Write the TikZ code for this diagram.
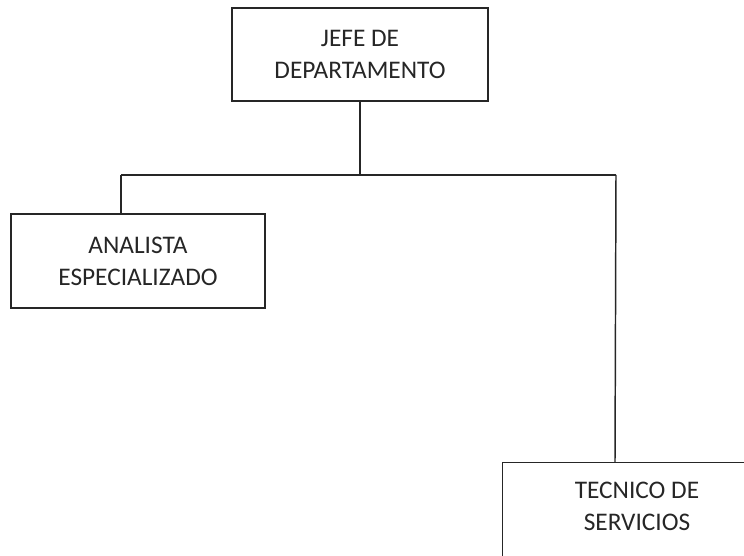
\documentclass[tikz,border=0pt]{standalone}
\usepackage{fontspec}
\setmainfont{Carlito}
\begin{document}
\begin{tikzpicture}[x=0.75pt,y=-0.75pt,
  orgbox/.style={draw=black!85, line width=1.1pt, fill=white, align=center, inner sep=0pt,
    font=\fontsize{19}{24}\selectfont, text=black!85},
  link/.style={draw=black!85, line width=1.1pt}]
\useasboundingbox (0,0) rectangle (744,556);
\node[orgbox, minimum width=256*0.75pt, minimum height=93*0.75pt] (jefe) at (360,54.5) {JEFE DE\\DEPARTAMENTO};
\node[orgbox, minimum width=254*0.75pt, minimum height=94*0.75pt] (ana) at (138,261) {ANALISTA\\ESPECIALIZADO};
\node[orgbox, minimum width=272*0.75pt, minimum height=98*0.75pt, anchor=north west] (tec) at (502,462) {};
\node[align=center, font=\fontsize{19}{24}\selectfont, text=black!85, inner sep=0pt] (tectext) at (637,506) {TECNICO DE\\SERVICIOS};
\coordinate (jL) at (121,175);
\coordinate (jR) at (616,175);
\coordinate (anaTop) at (121,214);
\coordinate (tecTop) at (615,462);
\draw[link] (jefe.south) -- (jefe.south |- jL);
\draw[link] (jL) -- (jR);
\draw[link] (jL) -- (anaTop);
\draw[link] (jR) -- (tecTop);
\end{tikzpicture}
\end{document}
